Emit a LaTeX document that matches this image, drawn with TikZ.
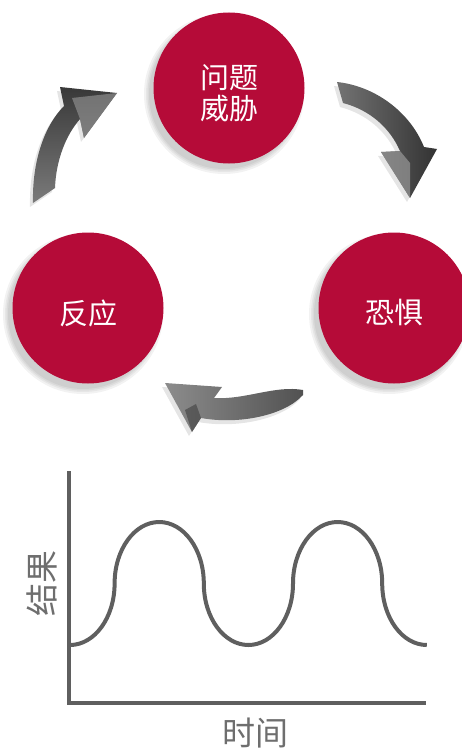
\documentclass[tikz,border=0pt]{standalone}
\usepackage{fontspec}
\newfontfamily\cjk{Noto Sans CJK SC}
\definecolor{crim}{RGB}{181,11,56}
\definecolor{axisgray}{RGB}{95,95,95}
\definecolor{labgray}{RGB}{110,110,110}
\begin{document}
\begin{tikzpicture}[x=1pt,y=-1pt,
  bubble/.style={circle,fill=crim,minimum size=151pt,inner sep=0pt},
  bubbletext/.style={text=white,align=center,inner sep=0pt,
     font=\cjk\fontsize{29}{31}\selectfont},
  shadowc/.style={fill=black,opacity=0.05},
  arrowshadow/.style={fill=black,opacity=0.10},
  axisline/.style={draw=axisgray,line width=4.5pt},
  wave/.style={draw=axisgray,line width=4pt},
  axislabel/.style={text=labgray,font=\cjk\fontsize{33}{35}\selectfont,inner sep=0pt}]
\useasboundingbox (0,0) rectangle (461,749);
% soft shadows of the circles
\foreach \cx/\cy in {229/88,88/308,394/308}{
  \foreach \r in {80,78,76.5,75}{
    \fill[shadowc] (\cx-5,\cy+6) circle[radius=\r];
  }
}
% circles
\node[bubble] (threat) at (229,88) {};
\node[bubble] (react) at (88,308) {};
\node[bubble] (fear) at (394,308) {};
\node[bubbletext] (threattxt) at ([yshift=-5pt]threat.center) {问题\\威胁};
\node[bubbletext] (reacttxt) at ([yshift=-5pt]react.center) {反应};
\node[bubbletext] (feartxt) at ([yshift=-5pt]fear.center) {恐惧};

% arrow shadows
\begin{scope}[shift={(-3,4)}]
\fill[arrowshadow] (33,203) .. controls (32,160) and (45,125) .. (64,106) -- (60,87) -- (117,93) -- (84,138) -- (80,119) .. controls (66,135) and (56,160) .. (55,188) -- cycle;
\fill[arrowshadow] (337,82) .. controls (375,86) and (410,112) .. (424,147) -- (437,149) -- (410,198) -- (381,152) -- (400,151) .. controls (390,128) and (370,110) .. (343,103) -- cycle;
\fill[arrowshadow] (303,390) .. controls (275,385) and (245,400) .. (214,398) -- (222,387) -- (165,383) -- (192,432) -- (201,418) .. controls (240,425) and (285,415) .. (303,395) -- cycle;
\end{scope}
% arrow 1: reaction -> threat
\shade[top color=black!78,bottom color=black!52] (33,203) .. controls (32,160) and (45,125) .. (64,106) -- (60,87) -- (117,93) -- (84,138) -- (80,119) .. controls (66,135) and (56,160) .. (55,188) -- cycle;
\fill[black!40,opacity=0.6] (72,98) -- (117,93) -- (84,138) -- (80,119) -- cycle;
% arrow 2: threat -> fear
\shade[left color=black!55,right color=black!80] (337,82) .. controls (375,86) and (410,112) .. (424,147) -- (437,149) -- (410,198) -- (381,152) -- (400,151) .. controls (390,128) and (370,110) .. (343,103) -- cycle;
\fill[black!35,opacity=0.6] (381,152) -- (400,151) -- (410,163) -- (410,198) -- cycle;
% arrow 3: fear -> reaction
\shade[left color=black!45,right color=black!68] (303,390) .. controls (275,385) and (245,400) .. (214,398) -- (222,387) -- (165,383) -- (192,432) -- (201,418) .. controls (240,425) and (285,415) .. (303,395) -- cycle;
\fill[black!80,opacity=0.5] (192,432) -- (201,418) -- (196,404) -- (185,410) -- cycle;

% chart
\coordinate (origin) at (69,703);
\coordinate (ytop) at (69,471);
\coordinate (xend) at (426,703);
\draw[axisline] (ytop) -- (origin) -- (xend);
\draw[wave] (70,645) .. controls (94.6,645) and (114.6,617.5) .. (114.6,583.5)
  .. controls (114.6,549.5) and (134.6,522) .. (159.2,522)
  .. controls (183.8,522) and (203.8,549.5) .. (203.8,583.5)
  .. controls (203.8,617.5) and (223.8,645) .. (248.4,645)
  .. controls (273,645) and (293,617.5) .. (293,583.5)
  .. controls (293,549.5) and (313,522) .. (337.6,522)
  .. controls (362.2,522) and (382.2,549.5) .. (382.2,583.5)
  .. controls (382.2,617.5) and (402.2,645) .. (426.8,645);
\node[axislabel,rotate=90] (ylab) at (42,583) {结果};
\node[axislabel] (xlab) at (255,733) {时间};
\end{tikzpicture}
\end{document}
